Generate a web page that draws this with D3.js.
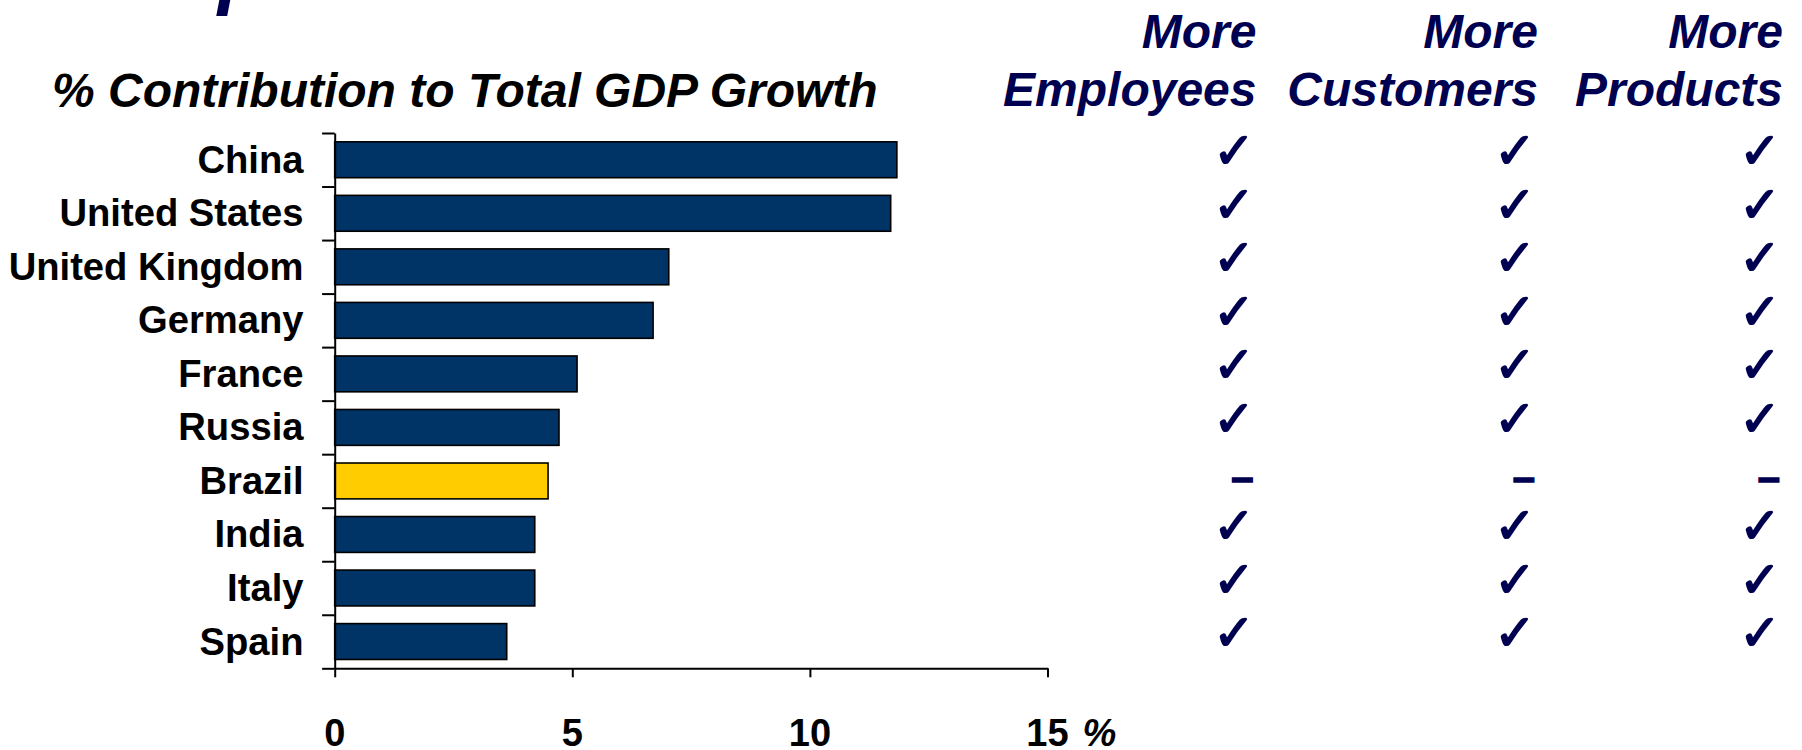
<!DOCTYPE html>
<html>
<head>
<meta charset="utf-8">
<script src="https://cdn.jsdelivr.net/npm/d3@7"></script>
<style>
  html, body { margin: 0; padding: 0; background: #fff; }
  svg { display: block; }
  text { font-family: "Liberation Sans", Arial, sans-serif; }
</style>
</head>
<body>
<svg id="chart" width="1802" height="750"></svg>
<script>
// Countries, top to bottom
const countries = ["China", "United States", "United Kingdom", "Germany", "France",
                   "Russia", "Brazil", "India", "Italy", "Spain"];
// % contribution to total GDP growth
const contribution = [11.83, 11.70, 7.03, 6.70, 5.10, 4.72, 4.49, 4.21, 4.21, 3.62];
// Highlighted country
const highlight = "Brazil";

// Opportunity columns (true = check, false = dash)
const columnTitles = [["More", "Employees"], ["More", "Customers"], ["More", "Products"]];
const moreEmployees = [true, true, true, true, true, true, false, true, true, true];
const moreCustomers = [true, true, true, true, true, true, false, true, true, true];
const moreProducts  = [true, true, true, true, true, true, false, true, true, true];

const xTicks = [0, 5, 10, 15];
const chartTitle = "% Contribution to Total GDP Growth";
const unitLabel = "%";

const NAVY_TEXT = "#000050";
const BAR = "#003366";
const BAR_HI = "#FFCC00";

const svg = d3.select("#chart");

// heading line running above the visible area
svg.append("text")
  .attr("x", 218).attr("y", -1)
  .attr("font-size", 80).attr("font-weight", "bold").attr("font-style", "italic")
  .attr("fill", NAVY_TEXT)
  .text("p");

// chart title
svg.append("text")
  .attr("x", 52).attr("y", 106.5)
  .attr("font-size", 48).attr("font-weight", "bold").attr("font-style", "italic")
  .attr("fill", "#000")
  .text(chartTitle);

// scales
const x = d3.scaleLinear().domain([0, 15]).range([334.7, 1047.5]);
const yTop = 133, yBottom = 668.3;
const y = d3.scaleBand().domain(countries).range([yTop, yBottom])
  .paddingInner(0.33).paddingOuter(0.165);
const boundary = d3.scaleLinear().domain([0, countries.length]).range([yTop, yBottom]);

// bars
svg.append("g").selectAll("rect")
  .data(countries)
  .join("rect")
  .attr("x", x(0))
  .attr("y", d => y(d))
  .attr("width", (d, i) => x(contribution[i]) - x(0))
  .attr("height", y.bandwidth())
  .attr("fill", d => d === highlight ? BAR_HI : BAR)
  .attr("stroke", "#000")
  .attr("stroke-width", 1.6);

// category axis: ticks between categories
const yAxis = svg.append("g")
  .attr("transform", `translate(${x(0)},0)`)
  .call(d3.axisLeft(boundary)
    .tickValues(d3.range(0, countries.length + 1))
    .tickSize(12.6).tickSizeOuter(0).tickFormat(""));
yAxis.selectAll("path, line").attr("stroke", "#000").attr("stroke-width", 2);

// value axis
const xAxis = svg.append("g")
  .attr("transform", `translate(0,${yBottom})`)
  .call(d3.axisBottom(x).tickValues(xTicks).tickSize(9).tickSizeOuter(0).tickFormat(""));
xAxis.selectAll("path, line").attr("stroke", "#000").attr("stroke-width", 2);

// value tick labels
svg.append("g").selectAll("text")
  .data(xTicks)
  .join("text")
  .attr("x", d => x(d))
  .attr("y", 746)
  .attr("text-anchor", "middle")
  .attr("font-size", 38).attr("font-weight", "bold")
  .attr("fill", "#000")
  .text(d => d);
svg.append("text")
  .attr("x", x(15) + 35).attr("y", 746)
  .attr("font-size", 38).attr("font-weight", "bold").attr("font-style", "italic")
  .attr("fill", "#000")
  .text(unitLabel);

// category labels
svg.append("g").selectAll("text")
  .data(countries)
  .join("text")
  .attr("x", 303.5)
  .attr("y", d => y(d) + y.bandwidth() / 2 + 13)
  .attr("text-anchor", "end")
  .attr("font-size", 38.2).attr("font-weight", "bold")
  .attr("fill", "#000")
  .text(d => d);

// opportunity columns
const columns = [
  { title: columnTitles[0], values: moreEmployees, right: 1256.5 },
  { title: columnTitles[1], values: moreCustomers, right: 1538 },
  { title: columnTitles[2], values: moreProducts,  right: 1783 }
];

columns.forEach(col => {
  const g = svg.append("g");
  g.selectAll("text.head")
    .data(col.title)
    .join("text")
    .attr("class", "head")
    .attr("x", col.right)
    .attr("y", (d, i) => 48 + i * 58)
    .attr("text-anchor", "end")
    .attr("font-size", 48).attr("font-weight", "bold").attr("font-style", "italic")
    .attr("fill", NAVY_TEXT)
    .text(d => d);

  g.selectAll("text.mark")
    .data(countries)
    .join("text")
    .attr("class", "mark")
    .attr("x", (d, i) => col.right - (col.values[i] ? 2 : 3))
    .attr("y", (d, i) => y(d) + y.bandwidth() / 2 + (col.values[i] ? 8.5 : 10))
    .attr("text-anchor", "end")
    .attr("font-family", (d, i) => col.values[i] ? "DejaVu Sans" : "Liberation Sans")
    .attr("font-size", (d, i) => col.values[i] ? 50 : 40)
    .attr("font-weight", "bold")
    .attr("fill", NAVY_TEXT)
    .attr("stroke", (d, i) => col.values[i] ? "none" : NAVY_TEXT)
    .attr("stroke-width", 1.4)
    .text((d, i) => col.values[i] ? "\u2713" : "\u2013");
});
</script>
</body>
</html>
